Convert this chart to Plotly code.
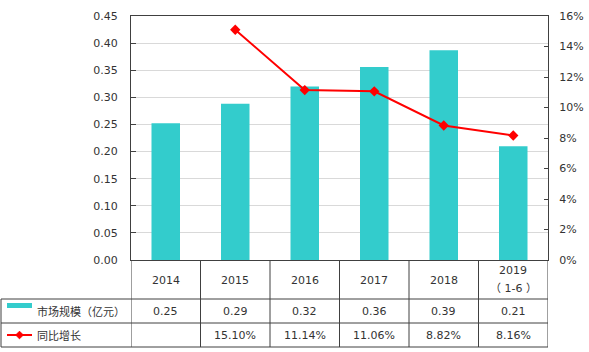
import plotly.graph_objects as go

# ---- data ----
categories = ["2014", "2015", "2016", "2017", "2018", "2019<br>（ 1-6 ）"]
market_size = [0.252, 0.288, 0.320, 0.356, 0.387, 0.210]      # 亿元
growth = [None, 15.10, 11.14, 11.06, 8.82, 8.16]              # %
series_names = ["市场规模（亿元）", "同比增长"]
left_ticks = [0.00, 0.05, 0.10, 0.15, 0.20, 0.25, 0.30, 0.35, 0.40, 0.45]
right_ticks = [0, 2, 4, 6, 8, 10, 12, 14, 16]

# ---- layout geometry (pixels) ----
W, H = 589, 352
L, R, T, B = 131, 548, 16, 260
def px(x):
    return (x - L) / (R - L)
def py(y):
    return (B - y) / (B - T)

BAR = "#33CCCC"
RED = "#FF0000"
TXT = "#333333"
LINE = "#404040"
FONT = "DejaVu Sans, Noto Sans CJK SC, sans-serif"
CJK = "Noto Sans CJK SC, sans-serif"

xs = list(range(len(categories)))

fig = go.Figure()
fig.add_trace(go.Bar(x=xs, y=market_size, marker=dict(color=BAR, line=dict(width=0)),
                     width=0.41, name=series_names[0], yaxis="y"))
fig.add_trace(go.Scatter(x=xs, y=growth, mode="lines+markers", name=series_names[1],
                         line=dict(color=RED, width=2),
                         marker=dict(symbol="diamond", size=8, color=RED),
                         yaxis="y2", connectgaps=False))

shapes = []
annotations = []

# table vertical lines at category boundaries
for i in range(len(categories) + 1):
    shapes.append(dict(type="line", xref="x", yref="paper", x0=i - 0.5, x1=i - 0.5,
                       y0=py(B), y1=py(347), line=dict(color=LINE, width=1)))
# left border of legend column
shapes.append(dict(type="line", xref="paper", yref="paper", x0=px(1), x1=px(1),
                   y0=py(299), y1=py(347), line=dict(color=LINE, width=1)))
# horizontal table lines
for yy in (299, 323, 347):
    shapes.append(dict(type="line", xref="paper", yref="paper", x0=px(1), x1=1,
                       y0=py(yy), y1=py(yy), line=dict(color=LINE, width=1)))

# legend keys
shapes.append(dict(type="rect", xref="paper", yref="paper", x0=px(7), x1=px(32),
                   y0=py(308), y1=py(303), fillcolor=BAR, line=dict(width=0)))
shapes.append(dict(type="line", xref="paper", yref="paper", x0=px(7), x1=px(32),
                   y0=py(335), y1=py(335), line=dict(color=RED, width=2)))
cx, cy, d = 19.5, 335, 3.8
shapes.append(dict(type="path", xref="paper", yref="paper",
                   path=f"M {px(cx)},{py(cy-d)} L {px(cx+d)},{py(cy)} L {px(cx)},{py(cy+d)} L {px(cx-d)},{py(cy)} Z",
                   fillcolor=RED, line=dict(color=RED, width=1)))

# legend texts
for name, yy in zip(series_names, (311, 335)):
    annotations.append(dict(text=name, xref="paper", yref="paper", x=px(35), y=py(yy),
                            xanchor="left", yanchor="middle", showarrow=False,
                            font=dict(family=CJK, size=11, color=TXT)))

# category header
for i, c in enumerate(categories):
    parts = c.split("<br>")
    if len(parts) == 1:
        annotations.append(dict(text=parts[0], xref="x", yref="paper", x=i, y=py(280),
                                xanchor="center", yanchor="middle", showarrow=False,
                                font=dict(family=FONT, size=11, color=TXT)))
    else:
        for p, yy in zip(parts, (270, 288)):
            annotations.append(dict(text=p, xref="x", yref="paper", x=i, y=py(yy),
                                    xanchor="center", yanchor="middle", showarrow=False,
                                    font=dict(family=FONT, size=11, color=TXT)))

# value rows
for i, v in enumerate(market_size):
    annotations.append(dict(text=f"{v:.2f}", xref="x", yref="paper", x=i, y=py(311),
                            xanchor="center", yanchor="middle", showarrow=False,
                            font=dict(family=FONT, size=11, color=TXT)))
for i, g in enumerate(growth):
    if g is None:
        continue
    annotations.append(dict(text=f"{g:.2f}%", xref="x", yref="paper", x=i, y=py(335),
                            xanchor="center", yanchor="middle", showarrow=False,
                            font=dict(family=FONT, size=11, color=TXT)))

fig.update_layout(
    width=W, height=H,
    margin=dict(l=L, r=W - R, t=T, b=H - B, autoexpand=False),
    paper_bgcolor="white", plot_bgcolor="white",
    showlegend=False,
    bargap=0.6,
    xaxis=dict(range=[-0.5, len(categories) - 0.5], showticklabels=False, ticks="",
               showgrid=False, zeroline=False, showline=True, linecolor=LINE, linewidth=1,
               mirror=True, fixedrange=True, automargin=False),
    yaxis=dict(range=[0, 0.45], tickmode="array", tickvals=left_ticks,
               ticktext=[f"{v:.2f}" for v in left_ticks],
               showgrid=True, gridcolor="#D9D9D9", gridwidth=1, zeroline=False,
               showline=True, linecolor=LINE, linewidth=1, automargin=False,
               ticks="inside", ticklen=5, tickcolor=LINE, ticklabelstandoff=10,
               tickfont=dict(family=FONT, size=11, color=TXT)),
    yaxis2=dict(range=[0, 16], tickmode="array", tickvals=right_ticks,
                ticktext=[f"{v}%" for v in right_ticks], overlaying="y",
                side="right", showgrid=False, zeroline=False, automargin=False,
                showline=True, linecolor=LINE, linewidth=1,
                ticks="inside", ticklen=4, tickcolor=LINE, ticklabelstandoff=8,
                tickfont=dict(family=FONT, size=11, color=TXT)),
    shapes=shapes, annotations=annotations,
)

fig.write_html("out.html")
